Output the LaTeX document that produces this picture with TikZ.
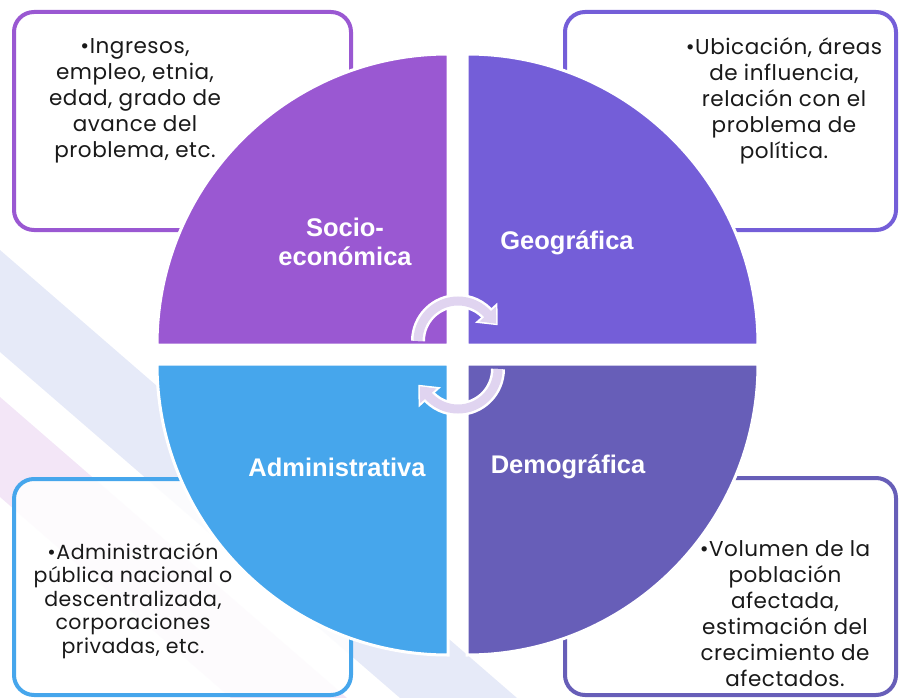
\documentclass[tikz,border=0pt]{standalone}
\usepackage{fontspec}
\setmainfont{Poppins}[LetterSpace=2.5]
\newfontfamily\labfont{Liberation Sans}
\usetikzlibrary{arrows.meta}
\definecolor{socio}{HTML}{9A58D2}
\definecolor{geo}{HTML}{745ED8}
\definecolor{admin}{HTML}{46A6EC}
\definecolor{demo}{HTML}{675EB8}
\definecolor{bandblue}{HTML}{E6EAF8}
\definecolor{bandpink}{HTML}{F3E6F7}
\definecolor{cycle}{HTML}{E0D4F0}
\begin{document}
\begin{tikzpicture}[x=1pt,y=-1pt,
    card/.style={line width=4pt,rounded corners=20pt,fill=white,fill opacity=0.85},
    quad/.style={draw=white,line width=3pt},
    boxtext/.style={inner sep=0pt,align=center,text=black!90,font=\fontsize{21.5}{26}\selectfont},
    lab/.style={inner sep=0pt,align=center,text=white,font=\labfont\bfseries\fontsize{25.5}{29}\selectfont},
    cycout/.style={white,line width=14pt,-{Triangle[length=17pt,width=29pt]}},
    cycin/.style={cycle,line width=9pt,-{Triangle[length=13pt,width=21pt]},shorten >=2pt}]
    \useasboundingbox (0,0) rectangle (899,698);

    % background bands
    \fill[bandblue] (0,250) -- (517,698) -- (400,698) -- (0,352) -- cycle;
    \fill[bandpink] (0,397) -- (347,698) -- (231,698) -- (0,497) -- cycle;

    % cards
    \draw[card,draw=socio] (14,12) rectangle (351,230);
    \draw[card,draw=geo] (565,12) rectangle (896,230);
    \draw[card,draw=admin] (14,479) rectangle (351,695);
    \draw[card,draw=demo] (565,478) rectangle (896,695);

    \node[boxtext] (tsoc) at (135,101) {•Ingresos,\\empleo, etnia,\\edad, grado de\\avance del\\problema, etc.};
    \node[boxtext] (tgeo) at (784,101) {•Ubicación, áreas\\de influencia,\\relación con el\\problema de\\política.};
    \node[boxtext,font=\fontsize{20.5}{23.5}\selectfont] (tadm) at (133,601) {•Administración\\pública nacional o\\descentralizada,\\corporaciones\\privadas, etc.};
    \node[boxtext] (tdem) at (785,614) {•Volumen de la\\población\\afectada,\\estimación del\\crecimiento de\\afectados.};

    % quarters
    \filldraw[quad,fill=socio] (448,345) -- (157,345) arc[start angle=180,end angle=270,radius=291] -- cycle;
    \filldraw[quad,fill=geo] (467,345) -- (467,54) arc[start angle=270,end angle=360,radius=291] -- cycle;
    \filldraw[quad,fill=demo] (467,364) -- (758,364) arc[start angle=0,end angle=90,radius=291] -- cycle;
    \filldraw[quad,fill=admin] (448,364) -- (448,655) arc[start angle=90,end angle=180,radius=291] -- cycle;

    \node[lab] (lsoc) at (345,242) {Socio-\\económica};
    \node[lab] (lgeo) at (567,243) {Geográfica};
    \node[lab] (ladm) at (337,467) {Administrativa};
    \node[lab] (ldem) at (568,467) {Demográfica};

    % cycle arrows
    \coordinate (top) at (418,341);
    \coordinate (bot) at (498,369);
    \draw[cycout] (top) arc[start angle=180,end angle=320,radius=40] -- ++(9,10);
    \draw[cycin] (top) arc[start angle=180,end angle=320,radius=40] -- ++(9,10);
    \draw[cycout] (bot) arc[start angle=0,end angle=140,radius=40] -- ++(-9,-10);
    \draw[cycin] (bot) arc[start angle=0,end angle=140,radius=40] -- ++(-9,-10);
\end{tikzpicture}
\end{document}
